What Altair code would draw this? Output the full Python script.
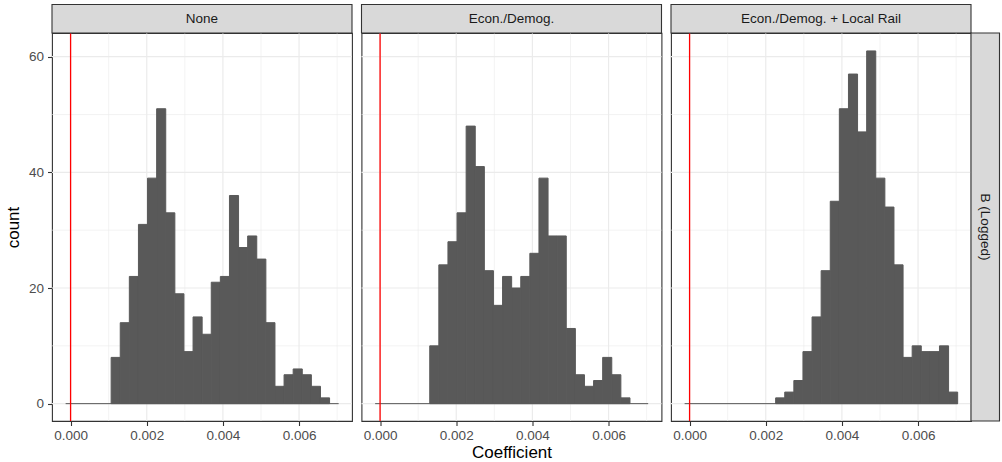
import altair as alt
import pandas as pd

# ---- data ----
panels = ["None", "Econ./Demog.", "Econ./Demog. + Local Rail"]
row_label = "B (Logged)"

bin_start = -0.00013
bin_width = 0.000239
n_bins = 30

counts_none = [0, 0, 0, 0, 0, 8, 14, 22, 31, 39, 51, 33, 19, 9, 15, 12, 21, 22,
               36, 27, 29, 25, 14, 3, 5, 6, 5, 3, 1, 0]
counts_econ = [0, 0, 0, 0, 0, 0, 10, 24, 28, 33, 48, 41, 23, 17, 22, 20, 22, 26,
               39, 29, 29, 13, 5, 3, 4, 8, 5, 1, 0, 0]
counts_rail = [0, 0, 0, 0, 0, 0, 0, 0, 0, 0, 1, 2, 4, 9, 15, 23, 35, 51, 57, 47,
               61, 39, 34, 24, 8, 10, 9, 9, 10, 2]
all_counts = [counts_none, counts_econ, counts_rail]

x_major = [0.0, 0.002, 0.004, 0.006]
x_minor = [0.001, 0.003, 0.005, 0.007]
y_major = [0, 20, 40, 60]
y_minor = [10, 30, 50]
ref_line = [0.0]

x_domain = [-0.000488, 0.00739]
y_domain = [-3.0, 64.1]

# ---- styling ----
W, H = 300, 388
STRIP = 28.5
FONT = "Liberation Sans"
BAR = "#595959"
GRID = "#EBEBEB"
DARK = "#333333"
STRIP_BG = "#D9D9D9"

edges = [bin_start + i * bin_width for i in range(n_bins + 1)]

xs = alt.Scale(domain=x_domain, nice=False, zero=False)
ys = alt.Scale(domain=y_domain, nice=False, zero=False)


def make_panel(i):
    counts = all_counts[i]
    bars = pd.DataFrame({"x": edges[:-1], "x2": edges[1:], "count": counts})
    bars = bars[bars["count"] > 0]

    if i == 1:
        xaxis = alt.Axis(values=x_major, format=".3f", grid=False, title="Coefficient")
    else:
        xaxis = alt.Axis(values=x_major, format=".3f", grid=False, title=None)
    if i == 0:
        yaxis = alt.Axis(values=y_major, grid=False, title="count")
    else:
        yaxis = None

    def X(field):
        return alt.X(field, type="quantitative", scale=xs, axis=xaxis)

    def Y(field):
        return alt.Y(field, type="quantitative", scale=ys, axis=yaxis)

    vminor = alt.Chart(pd.DataFrame({"v": x_minor})).mark_rule(
        color=GRID, strokeWidth=0.6).encode(x=X("v"))
    hminor = alt.Chart(pd.DataFrame({"v": y_minor})).mark_rule(
        color=GRID, strokeWidth=0.6).encode(y=Y("v"))
    vmajor = alt.Chart(pd.DataFrame({"v": x_major})).mark_rule(
        color=GRID, strokeWidth=1.2).encode(x=X("v"))
    hmajor = alt.Chart(pd.DataFrame({"v": y_major})).mark_rule(
        color=GRID, strokeWidth=1.2).encode(y=Y("v"))

    rects = alt.Chart(bars).mark_rect(
        fill=BAR, stroke=BAR, strokeWidth=1.0).encode(
        x=X("x"), x2="x2", y=Y("count"), y2=alt.datum(0))

    base = alt.Chart(pd.DataFrame({"a": [edges[0]], "b": [edges[-1]], "z": [0]})).mark_rule(
        color=BAR, strokeWidth=1).encode(x=X("a"), x2="b", y=Y("z"))

    red = alt.Chart(pd.DataFrame({"v": ref_line})).mark_rule(
        color="#FF0000", strokeWidth=1.3).encode(x=X("v"))

    lab = pd.DataFrame({"label": [panels[i]]})
    strip_bg = alt.Chart(lab).mark_rect(
        fill=STRIP_BG, stroke=DARK, strokeWidth=1.1).encode(
        x=alt.value(0), x2=alt.value(W), y=alt.value(-STRIP), y2=alt.value(0))
    strip_tx = alt.Chart(lab).mark_text(
        font=FONT, fontSize=13.5, color="#1A1A1A", align="center", baseline="middle").encode(
        x=alt.value(W / 2), y=alt.value(-STRIP / 2), text="label:N")

    layers = [vminor, hminor, vmajor, hmajor, rects, base, red, strip_bg, strip_tx]

    if i == 2:
        rl = pd.DataFrame({"label": [row_label]})
        rbg = alt.Chart(rl).mark_rect(
            fill=STRIP_BG, stroke=DARK, strokeWidth=1.1).encode(
            x=alt.value(W), x2=alt.value(W + STRIP), y=alt.value(0), y2=alt.value(H))
        rtx = alt.Chart(rl).mark_text(
            font=FONT, fontSize=13.5, color="#1A1A1A", align="center", baseline="middle",
            angle=90).encode(
            x=alt.value(W + STRIP / 2), y=alt.value(H / 2), text="label:N")
        layers += [rbg, rtx]

    return alt.layer(*layers).properties(width=W, height=H)


chart = alt.hconcat(*[make_panel(i) for i in range(3)], spacing=9.5, bounds="flush").properties(
    padding={"left": 3, "top": 3, "right": 0, "bottom": 0}
).configure_view(
    stroke=DARK, strokeWidth=1.1
).configure_axis(
    domain=False,
    tickColor=DARK,
    tickWidth=1.1,
    tickSize=4.5,
    labelFont=FONT,
    labelFontSize=13.5,
    labelColor="#4D4D4D",
    labelPadding=3,
    titleFont=FONT,
    titleFontSize=17,
    titleFontWeight="normal",
    titleColor="#000000",
).configure_axisX(
    titlePadding=3,
    labelPadding=2.5,
).configure_axisY(
    titlePadding=6,
    labelPadding=4,
)

chart.save("out.html", embed_options={"renderer": "svg", "actions": False})
